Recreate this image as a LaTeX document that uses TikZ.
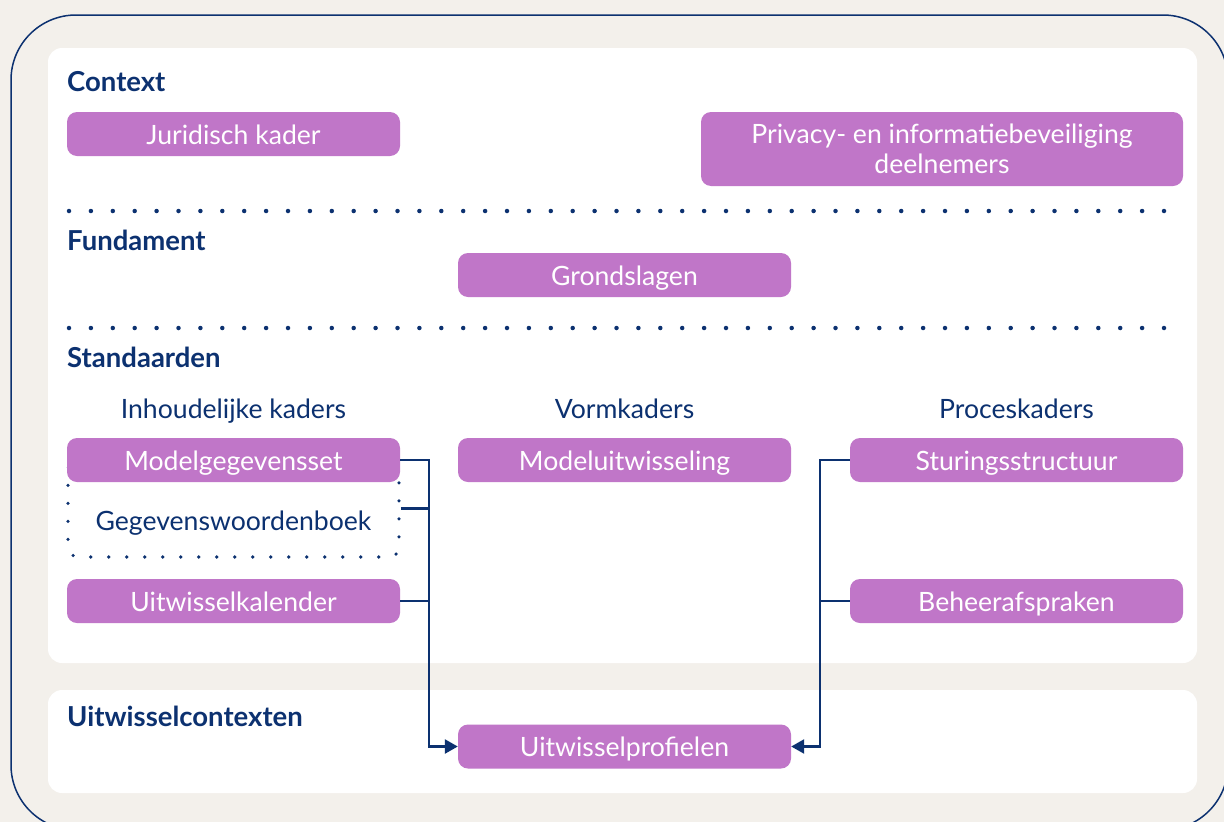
\documentclass[tikz,border=0pt]{standalone}
\usepackage{fontspec}
\setmainfont{Lato}
\usetikzlibrary{arrows.meta, positioning, calc}
\definecolor{navy}{RGB}{12,49,112}
\definecolor{orchid}{RGB}{192,118,200}
\definecolor{sand}{RGB}{243,240,235}

\begin{document}
\begin{tikzpicture}[
    x=1pt, y=-1pt, >={Triangle[length=13pt, width=14pt]},
    panel/.style={fill=white, rounded corners=14pt},
    pbox/.style={rectangle, fill=orchid, rounded corners=10pt, text=white,
                 font=\fontsize{26.6}{30}\selectfont, inner sep=0pt,
                 minimum width=333pt, minimum height=44pt, align=center},
    pline/.style={text height=24pt, text depth=4pt},
    head/.style={anchor=base west, inner sep=0pt, text=navy,
                 font=\fontsize{27.5}{30}\selectfont\bfseries},
    sub/.style={anchor=base, inner sep=0pt, text=navy,
                font=\fontsize{26.6}{30}\selectfont},
    sep/.style={navy, line width=4.5pt, line cap=round,
                dash pattern=on 0pt off 21.9pt},
    dframe/.style={rectangle, draw=navy, line width=3.6pt, line cap=round,
                   dash pattern=on 0pt off 18pt, rounded corners=10pt,
                   minimum width=331pt, minimum height=97pt},
    link/.style={navy, line width=2.5pt}
]
\useasboundingbox (0,0) rectangle (1224,822);
\fill[sand] (0,0) rectangle (1224,822);
\begin{scope}
  \clip (0,0) rectangle (1224,822);
  \draw[navy, line width=1.5pt, rounded corners=65pt] (11,15) rectangle (1228,830);
\end{scope}

% panels
\fill[panel] (48,48) rectangle (1197,663);
\fill[panel] (48,690) rectangle (1197,793);

% layer headings
\node[head] (hctx) at (67,91)  {Context};
\node[head] (hfun) at (67,250) {Fundament};
\node[head] (hstd) at (67,367) {Standaarden};
\node[head] (huit) at (67,726) {Uitwisselcontexten};

\draw[sep] (69,211) -- (1176,211);
\draw[sep] (69,328) -- (1176,328);

% context
\node[pbox, pline] (jur) at (233.5,134) {Juridisch kader};
\node[pbox, minimum width=482pt, minimum height=74pt] (priv) at (942,149)
    {Privacy- en informatiebeveiliging\\deelnemers};

% fundament
\node[pbox, pline] (grond) at (624.5,275) {Grondslagen};

% standaarden
\node[sub] (sinh) at (233.5,418) {Inhoudelijke kaders};
\node[sub] (svorm) at (624.5,418) {Vormkaders};
\node[sub] (sproc) at (1016.5,418) {Proceskaders};

\node[dframe] (gwbframe) at (233.5,508.5) {};
\node[sub] (gwb) at (233.5,530) {Gegevenswoordenboek};

\node[pbox, pline] (mgs)  at (233.5,460)  {Modelgegevensset};
\node[pbox, pline] (muw)  at (624.5,460)  {Modeluitwisseling};
\node[pbox, pline] (stur) at (1016.5,460) {Sturingsstructuur};
\node[pbox, pline] (uwk)  at (233.5,601)  {Uitwisselkalender};
\node[pbox, pline] (beh)  at (1016.5,601) {Beheerafspraken};

% uitwisselcontexten
\node[pbox, pline] (prof) at (624.5,746.5) {Uitwisselprofielen};

% connectors
\coordinate (lbus) at (429,0);
\coordinate (rbus) at (820,0);
\draw[link, ->] (mgs.east) -- (mgs.east -| lbus) |- (prof.west);
\draw[link] (gwbframe.east) -- (gwbframe.east -| lbus);
\draw[link] (uwk.east) -- (uwk.east -| lbus);
\draw[link, ->] (stur.west) -- (stur.west -| rbus) |- (prof.east);
\draw[link] (beh.west) -- (beh.west -| rbus);
\end{tikzpicture}
\end{document}
